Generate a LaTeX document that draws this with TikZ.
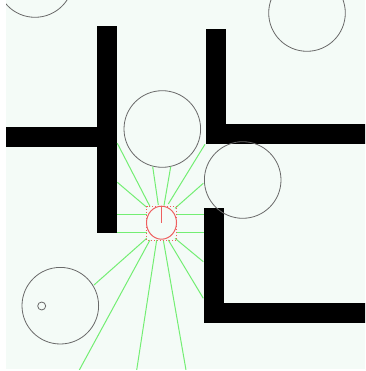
\documentclass[tikz,border=0pt]{standalone}
\usetikzlibrary{calc,shapes.geometric}
\definecolor{mint}{RGB}{244,251,247}
\definecolor{raygreen}{RGB}{115,238,115}
\definecolor{robred}{RGB}{238,95,95}
\definecolor{obsgray}{RGB}{105,105,105}
\tikzset{
  obstacle/.style={circle, draw=obsgray, line width=0.8pt, inner sep=0pt, minimum size=76.6pt},
  wall/.style={fill=black, draw=none},
  ray/.style={draw=raygreen, line width=1pt},
  robotbody/.style={ellipse, draw=robred, line width=1pt, inner sep=0pt, minimum width=30pt, minimum height=33pt},
}
\begin{document}
\begin{tikzpicture}[x=1pt,y=-1pt]
\useasboundingbox (0,0) rectangle (365,371);
\fill[white] (0,0) rectangle (365,371);
\fill[mint] (6,0) rectangle (365,369);
\begin{scope}
\clip (6,0) rectangle (365,369);
% walls
\fill[wall] (97.3,26) rectangle (117.3,233.3);
\fill[wall] (0,127.3) rectangle (97.3,147.3);
\fill[wall] (206,29.3) rectangle (226,144.3);
\fill[wall] (206,124.3) rectangle (370,144.3);
\fill[wall] (204,208.3) rectangle (224,323.3);
\fill[wall] (204,303.3) rectangle (370,323.3);
% obstacles
\node[obstacle] (otl) at (35,-21) {};
\node[obstacle] (otr) at (307,13) {};
\node[obstacle] (omid) at (162.3,129) {};
\node[obstacle] (oright) at (242.7,180) {};
\node[obstacle] (obl) at (60.3,305.7) {};
\node[circle, draw=obsgray, line width=0.8pt, inner sep=0pt, minimum size=8pt] (goal) at (41.7,306) {};
% robot
\coordinate (rc) at (161.5,222.7);
% ray start points
\coordinate (s1) at (150,206.5);
\coordinate (s2) at (158.3,205);
\coordinate (s3) at (164,205.5);
\coordinate (s4) at (168.3,204);
\coordinate (s5) at (146.7,207.3);
\coordinate (s6) at (175,208.3);
\coordinate (s7) at (146.7,214.5);
\coordinate (s8) at (176.7,214.5);
\coordinate (s9) at (146.7,232.5);
\coordinate (s10) at (176.7,232.5);
\coordinate (s11) at (146.7,238.3);
\coordinate (s12) at (150,240);
\coordinate (s13) at (156.7,240);
\coordinate (s14) at (163.3,240);
\coordinate (s15) at (168.3,240);
\coordinate (s16) at (175,238.3);
% ray end points
\coordinate (e1) at (117.3,143.3);
\coordinate (e2) at (152.7,166.7);
\coordinate (e3) at (170.7,166.7);
\coordinate (e4) at (205,144.3);
\coordinate (e5) at (117.3,182.3);
\coordinate (e6) at (203.3,183.3);
\coordinate (e7) at (117.3,214.5);
\coordinate (e8) at (204,214.5);
\coordinate (e9) at (117.3,232.5);
\coordinate (e10) at (204,232.5);
\coordinate (e11) at (94,285);
\coordinate (e12) at (79.3,370);
\coordinate (e13) at (136.7,370);
\coordinate (e14) at (186,370);
\coordinate (e15) at (203.3,298.3);
\coordinate (e16) at (203.3,261.7);
\foreach \i in {1,...,16} { \draw[ray] (s\i) -- (e\i); }
% robot body
\node[robotbody] (robot) at (rc) {};
\draw[robred, line width=1pt, dotted] (146.7,206) rectangle (176.7,240.7);
\coordinate (head) at (161.5,206.7);
\draw[robred, line width=1pt] (rc) -- (head);
\end{scope}
\end{tikzpicture}
\end{document}
